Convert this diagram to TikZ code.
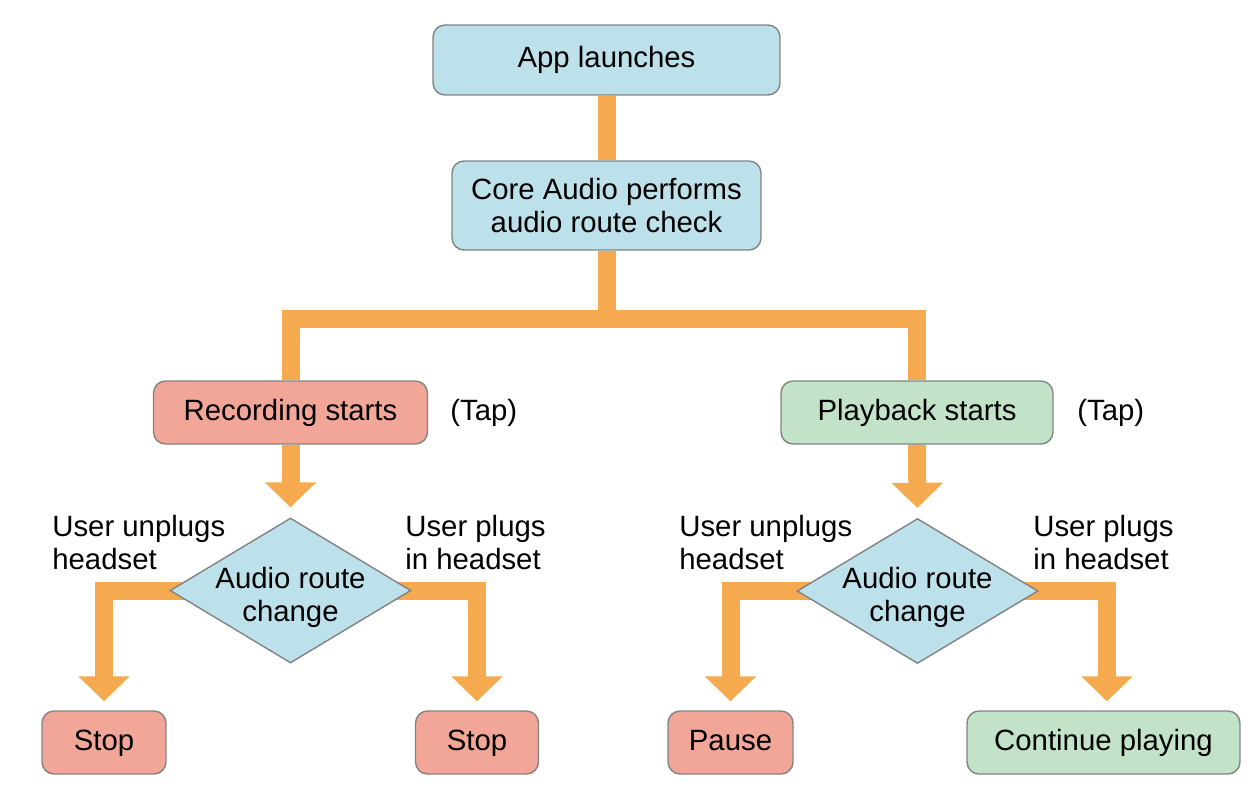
\documentclass[tikz,border=0pt]{standalone}
\usepackage{fontspec}
\setmainfont{Liberation Sans}
\usetikzlibrary{shapes.geometric,arrows.meta,backgrounds}
\definecolor{boxblue}{RGB}{189,225,235}
\definecolor{boxred}{RGB}{242,166,151}
\definecolor{boxgreen}{RGB}{195,227,200}
\definecolor{barorange}{RGB}{246,170,80}
\definecolor{edgegray}{RGB}{130,130,130}
\begin{document}
\begin{tikzpicture}[x=0.02cm,y=-0.02cm,
  every node/.style={font=\fontsize{16.7}{18.7}\selectfont, inner sep=0pt},
  box/.style={draw=edgegray, line width=0.8pt, rounded corners=0.24cm, align=center, minimum height=1.26cm},
  oneline/.style={text height=12.5pt, text depth=3.5pt},
  dia/.style={diamond, draw=edgegray, line width=0.8pt, fill=boxblue, minimum width=4.82cm, minimum height=2.90cm},
  diatext/.style={align=center, yshift=-0.13cm},
  lbl/.style={anchor=north west, align=left},
  bar/.style={draw=barorange, line width=0.36cm, line join=miter},
  arr/.style={bar, -{Triangle[width=1.0cm,length=0.5cm]}}
]
\useasboundingbox (0,0) rectangle (1254,792);

\node[box, oneline, fill=boxblue, minimum width=6.94cm, minimum height=1.40cm] (app) at (606.5,60) {App launches};
\node[box, fill=boxblue, minimum width=6.18cm, minimum height=1.78cm] (core) at (606.5,205.5) {Core Audio performs\\audio route check};
\node[box, oneline, fill=boxred, minimum width=5.48cm] (rec) at (290.5,412.5) {Recording starts};
\node[box, oneline, fill=boxgreen, minimum width=5.44cm] (play) at (917,412.5) {Playback starts};
\node[oneline, anchor=west] (tapL) at (450,412.5) {(Tap)};
\node[oneline, anchor=west] (tapR) at (1077,412.5) {(Tap)};

\node[dia, label={[diatext]center:Audio route\\change}] (dL) at (290.5,590.5) {};
\node[dia, label={[diatext]center:Audio route\\change}] (dR) at (917.5,591) {};

\node[lbl] (uL) at (52,515) {User unplugs\\headset};
\node[lbl] (pL) at (405,515) {User plugs\\in headset};
\node[lbl] (uR) at (679,515) {User unplugs\\headset};
\node[lbl] (pR) at (1033,515) {User plugs\\in headset};

\node[box, oneline, fill=boxred, minimum width=2.48cm] (stopL) at (104,742.5) {Stop};
\node[box, oneline, fill=boxred, minimum width=2.46cm] (stopR) at (477,742.5) {Stop};
\node[box, oneline, fill=boxred, minimum width=2.50cm] (pause) at (730.5,742.5) {Pause};
\node[box, oneline, fill=boxgreen, minimum width=5.46cm] (cont) at (1103.5,742.5) {Continue playing};

\coordinate (split) at (606.5,319);

\begin{scope}[on background layer]
\draw[bar] (app) -- (core);
\draw[bar] (core.south) -- (split);
\draw[bar] (rec.north) |- (split) -| (play.north);
\draw[arr, shorten >=0.2cm] (rec.south) -- (dL.north);
\draw[arr, shorten >=0.2cm] (play.south) -- (dR.north);
\draw[arr, shorten >=0.18cm] (dL.center) -| (stopL.north);
\draw[arr, shorten >=0.18cm] (dL.center) -| (stopR.north);
\draw[arr, shorten >=0.18cm] (dR.center) -| (pause.north);
\draw[arr, shorten >=0.18cm] (dR.center) -| ([xshift=0.07cm]cont.north);
\end{scope}
\end{tikzpicture}
\end{document}
